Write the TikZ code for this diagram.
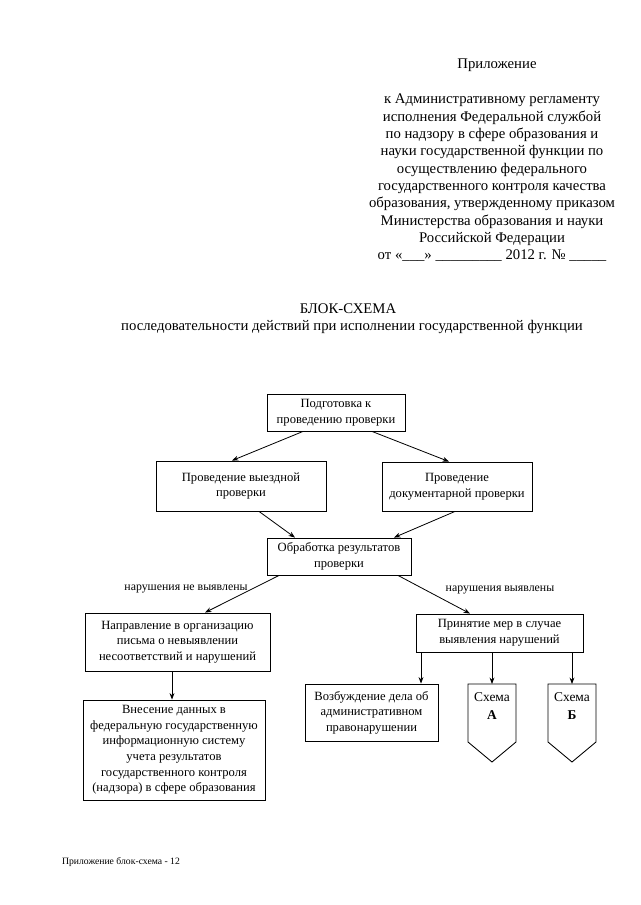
\documentclass[tikz,border=0pt]{standalone}
\usepackage{fontspec}
\setmainfont{Liberation Serif}
\usetikzlibrary{calc,arrows.meta}
\def\u{0.9297pt}
\begin{document}
\begin{tikzpicture}[x=0.9297pt,y=-0.9297pt,
  box/.style={draw, line width=0.8pt, align=center, inner sep=0pt,
    font=\fontsize{11.7}{14.5}\selectfont},
  arr/.style={-{Stealth[length=6pt,width=4.5pt]}, line width=0.75pt},
  hdr/.style={font=\fontsize{13.7}{16.1}\selectfont, align=center, inner sep=0pt},
  lbl/.style={font=\fontsize{11}{13}\selectfont, inner sep=0pt},
  schtext/.style={font=\fontsize{12.5}{16.5}\selectfont, align=center, inner sep=0pt},
  schshape/.style={draw, line width=0.8pt, line join=miter}]
\useasboundingbox (0,0) rectangle (640,905);

% header
\node[hdr] (app) at (497,65) {Приложение};
\node[hdr] (reg) at (492,178) {к Административному регламенту\\
исполнения Федеральной службой\\
по надзору в сфере образования и\\
науки государственной функции по\\
осуществлению федерального\\
государственного контроля качества\\
образования, утвержденному приказом\\
Министерства образования и науки\\
Российской Федерации\\
от «\_\_\_» \_\_\_\_\_\_\_\_\_ 2012 г. № \_\_\_\_\_};

\node[hdr] (title) at (348,309) {БЛОК-СХЕМА};
\node[hdr] (subtitle) at (352,327) {последовательности действий при исполнении государственной функции};

% boxes
\node[box, minimum width=138*\u, minimum height=37*\u] (prep) at (336,412.5)
  {Подготовка к\\проведению проверки};
\node[box, minimum width=170*\u, minimum height=50*\u] (vyezd) at (241,486)
  {Проведение выездной\\проверки};
\node[box, minimum width=150*\u, minimum height=49*\u] (doc) at (457,486.5)
  {Проведение\\документарной проверки};
\node[box, minimum width=144*\u, minimum height=37*\u] (obr) at (339,556.5)
  {Обработка результатов\\проверки};
\node[box, minimum width=185*\u, minimum height=58*\u] (napr) at (177.5,642)
  {Направление в организацию\\письма о невыявлении\\несоответствий и нарушений};
\node[box, minimum width=167*\u, minimum height=38*\u] (prin) at (499.5,633)
  {Принятие мер в случае\\выявления нарушений};
\node[box, minimum width=182*\u, minimum height=100*\u] (vnes) at (174,750)
  {Внесение данных в\\федеральную государственную\\информационную систему\\учета результатов\\государственного контроля\\(надзора) в сфере образования};
\node[box, minimum width=133*\u, minimum height=57*\u] (vozb) at (371.5,712.5)
  {Возбуждение дела об\\административном\\правонарушении};

% schema shapes
\node[schtext] (schA) at (492,706) {Схема\\\textbf{А}};
\node[schtext] (schB) at (572,706) {Схема\\\textbf{Б}};
\coordinate (schAtop) at ($(schA)+(0,-22)$);
\coordinate (schBtop) at ($(schB)+(0,-22)$);
\draw[schshape] ($(schA)+(-24,-22)$) -- ($(schA)+(24,-22)$) -- ($(schA)+(24,36)$)
  -- ($(schA)+(0,56)$) -- ($(schA)+(-24,36)$) -- cycle;
\draw[schshape] ($(schB)+(-24,-22)$) -- ($(schB)+(24,-22)$) -- ($(schB)+(24,36)$)
  -- ($(schB)+(0,56)$) -- ($(schB)+(-24,36)$) -- cycle;

% labels
\node[lbl] (lno) at (186,589) {нарушения не выявлены};
\node[lbl] (lyes) at (500,590) {нарушения выявлены};

% connectors
\draw[arr] ($(prep.south)+(-33,0)$) -- ($(vyezd.north)+(-9,0)$);
\draw[arr] ($(prep.south)+(36,0)$) -- ($(doc.north)+(-8,0)$);
\draw[arr] ($(vyezd.south)+(18,0)$) -- ($(obr.north)+(-44,0)$);
\draw[arr] ($(doc.south)+(-2,0)$) -- ($(obr.north)+(55,0)$);
\draw[arr] ($(obr.south)+(-60,0)$) -- ($(napr.north)+(27.5,0)$);
\draw[arr] ($(obr.south)+(59,0)$) -- ($(prin.north)+(-29.5,0)$);
\coordinate (na) at ($(napr.south)+(-5.5,0)$);
\draw[arr] (na) -- (na |- vnes.north);
\coordinate (p1) at ($(prin.south)+(-78.5,0)$);
\draw[arr] (p1) -- (p1 |- vozb.north);
\draw[arr] (prin.south -| schAtop) -- (schAtop);
\draw[arr] (prin.south -| schBtop) -- (schBtop);

% footer
\node[font=\fontsize{9}{11}\selectfont, inner sep=0pt] (foot) at (121,862) {Приложение блок-схема - 12};
\end{tikzpicture}
\end{document}
